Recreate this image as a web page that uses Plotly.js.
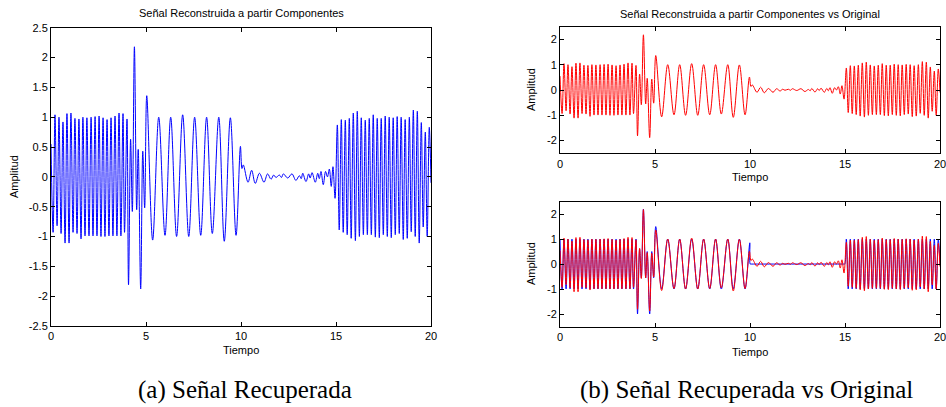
<!DOCTYPE html>
<html><head><meta charset="utf-8">
<script src="https://cdn.plot.ly/plotly-3.0.1.min.js"></script>
<style>html,body{margin:0;padding:0;background:#fff;}#chart{width:946px;height:407px;}</style>
</head><body><div id="chart"></div>
<script>
// Reconstructed signal: times and values of its turning points
var recT = [0.00,0.11,0.21,0.32,0.42,0.53,0.63,0.74,0.84,0.95,1.05,1.16,1.26,1.37,1.47,1.58,1.68,1.79,1.89,2.00,
  2.11,2.21,2.32,2.42,2.53,2.63,2.74,2.84,2.95,3.05,3.16,3.26,3.37,3.47,3.58,3.68,3.79,3.87,4.00,4.08,
  4.19,4.28,4.39,4.51,4.59,4.72,4.83,4.93,5.04,5.35,5.67,6.00,6.30,6.61,6.93,7.25,7.56,7.88,8.19,8.49,
  8.83,9.12,9.44,9.74,9.97,10.05,10.12,10.37,10.56,10.75,10.97,11.21,11.40,11.58,11.72,11.84,12.02,12.13,12.23,12.46,
  12.68,12.89,13.07,13.17,13.25,13.42,13.56,13.64,13.74,13.91,14.04,14.12,14.21,14.33,14.45,14.55,14.65,14.75,14.84,14.95,
  15.07,15.17,15.28,15.38,15.49,15.59,15.70,15.80,15.91,16.02,16.12,16.23,16.33,16.44,16.54,16.65,16.75,16.86,16.96,17.07,
  17.17,17.28,17.38,17.49,17.59,17.70,17.80,17.91,18.01,18.12,18.22,18.33,18.43,18.54,18.64,18.75,18.86,18.96,19.07,19.17,
  19.28,19.38,19.49,19.59,19.70,19.80,19.91,20.00];
var recV = [0.55,-0.93,1.04,-0.82,1.00,-0.95,0.92,-1.11,1.06,-1.11,1.07,-0.93,0.98,-0.95,0.97,-1.04,1.00,-0.99,0.99,-0.99,
  1.00,-0.99,1.01,-0.99,1.02,-1.00,0.99,-1.00,0.96,-0.99,0.99,-0.99,1.02,-0.99,1.07,-0.99,1.06,-0.93,0.97,-1.81,
  0.63,-0.58,2.18,-0.55,0.46,-1.88,0.43,-0.52,1.36,-1.06,1.00,-0.98,1.00,-1.00,1.04,-1.00,1.00,-0.98,1.00,-0.95,
  1.00,-1.08,0.99,-0.98,0.51,0.14,0.20,-0.09,0.11,-0.11,0.06,-0.09,0.05,-0.04,0.03,-0.01,0.03,-0.01,0.05,-0.02,
  0.05,-0.06,0.02,-0.03,0.06,-0.08,0.05,-0.02,0.07,-0.09,0.06,-0.03,0.09,-0.13,0.09,0.00,0.13,-0.16,0.17,-0.36,
  0.87,-0.89,0.96,-0.93,0.95,-0.97,0.98,-1.03,1.07,-1.07,1.10,-1.00,0.99,-0.97,0.95,-0.97,0.98,-0.97,1.04,-1.01,
  0.98,-1.02,0.98,-0.97,1.02,-1.00,1.00,-1.02,0.99,-0.97,1.01,-0.95,1.00,-1.05,0.96,-1.03,1.00,-0.92,1.12,-1.00,
  1.10,-1.11,0.91,-0.84,0.75,-1.00,0.83,-0.10];

// Original signal: turning points and flat stretch
var origT = [0.00,0.11,0.21,0.32,0.42,0.53,0.63,0.74,0.84,0.95,1.05,1.16,1.26,1.37,1.47,1.58,1.68,1.79,1.89,2.00,
  2.11,2.21,2.32,2.42,2.53,2.63,2.74,2.84,2.95,3.05,3.16,3.26,3.37,3.47,3.58,3.68,3.79,3.87,4.00,4.08,
  4.19,4.28,4.39,4.51,4.59,4.72,4.83,4.93,5.04,5.35,5.67,6.00,6.30,6.61,6.93,7.25,7.56,7.88,8.19,8.49,
  8.83,9.12,9.44,9.74,9.99,10.01,10.05,12.50,14.95,14.99,
  15.07,15.17,15.28,15.38,15.49,15.59,15.70,15.80,15.91,16.02,16.12,16.23,16.33,16.44,16.54,16.65,16.75,16.86,16.96,17.07,
  17.17,17.28,17.38,17.49,17.59,17.70,17.80,17.91,18.01,18.12,18.22,18.33,18.43,18.54,18.64,18.75,18.86,18.96,19.07,19.17,
  19.28,19.38,19.49,19.59,19.70,19.80,19.91,20.00];
var origV = [1.00,-1.00,1.00,-1.00,1.00,-1.00,1.00,-1.00,1.00,-1.00,1.00,-1.00,1.00,-1.00,1.00,-1.00,1.00,-1.00,1.00,-1.00,
  1.00,-1.00,1.00,-1.00,1.00,-1.00,1.00,-1.00,1.00,-1.00,1.00,-1.00,1.00,-1.00,1.00,-1.00,1.00,-1.00,1.00,-2.00,
  0.60,-0.55,2.20,-0.55,0.50,-2.00,0.50,-0.55,1.50,-1.00,1.00,-1.00,1.00,-1.00,1.00,-1.00,1.00,-1.00,1.00,-1.00,
  1.00,-1.00,1.00,-1.00,0.85,0.00,0.00,0.00,0.00,0.00,
  1.00,-1.00,1.00,-1.00,1.00,-1.00,1.00,-1.00,1.00,-1.00,1.00,-1.00,1.00,-1.00,1.00,-1.00,1.00,-1.00,1.00,-1.00,
  1.00,-1.00,1.00,-1.00,1.00,-1.00,1.00,-1.00,1.00,-1.00,1.00,-1.00,1.00,-1.00,1.00,-1.00,1.00,-1.00,1.00,-1.00,
  1.00,-1.00,1.00,-1.00,1.00,-1.00,1.00,0.00];

// Tick labels
var xTickVals = [0,5,10,15,20];
var xTickText = ["0","5","10","15","20"];
var yTickValsA = [-2.5,-2,-1.5,-1,-0.5,0,0.5,1,1.5,2,2.5];
var yTickTextA = ["-2.5","-2","-1.5","-1","-0.5","0","0.5","1","1.5","2","2.5"];
var yTickValsB = [-2,-1,0,1,2];
var yTickTextB = ["-2","-1","0","1","2"];

var titleA = "Señal Reconstruida a partir Componentes";
var titleB = "Señal Reconstruida a partir Componentes vs Original";
var xLabel = "Tiempo";
var yLabel = "Amplitud";
var captionA = "(a) Señal Recuperada";
var captionB = "(b) Señal Recuperada vs Original";

var W = 946, H = 407;
function px(x){return x/W;}
function py(y){return 1 - y/H;}

var sans = "Liberation Sans, Arial, Helvetica, sans-serif";
var serif = "Liberation Serif, Times New Roman, serif";

var lineSpline = function(c){return {color:c, width:1, shape:'spline', smoothing:1};};

var traces = [
  {x:recT, y:recV, type:'scatter', mode:'lines', line:lineSpline('#0000ff'), xaxis:'x', yaxis:'y', hoverinfo:'skip'},
  {x:recT, y:recV, type:'scatter', mode:'lines', line:lineSpline('#ff0000'), xaxis:'x2', yaxis:'y2', hoverinfo:'skip'},
  {x:origT, y:origV, type:'scatter', mode:'lines', line:lineSpline('#0000ff'), xaxis:'x3', yaxis:'y3', hoverinfo:'skip'},
  {x:recT, y:recV, type:'scatter', mode:'lines', line:lineSpline('#ff0000'), xaxis:'x3', yaxis:'y3', hoverinfo:'skip'}
];

function xa(dom, anchor){
  return {domain:dom, anchor:anchor, range:[0,20], tickmode:'array', tickvals:xTickVals, ticktext:xTickText,
    ticks:'inside', ticklen:4, tickcolor:'#000', showline:true, linecolor:'#000', linewidth:1, mirror:'ticks',
    showgrid:false, zeroline:false, ticklabeloverflow:'allow', tickfont:{family:sans, size:11, color:'#000'}};
}
function ya(dom, anchor, vals, txt){
  return {domain:dom, anchor:anchor, range:[-2.5,2.5], tickmode:'array', tickvals:vals, ticktext:txt,
    ticks:'inside', ticklen:4, tickcolor:'#000', showline:true, linecolor:'#000', linewidth:1, mirror:'ticks',
    showgrid:false, zeroline:false, ticklabeloverflow:'allow', tickfont:{family:sans, size:11, color:'#000'}};
}

function ann(text, x, y, font, angle){
  return {text:text, x:px(x), y:py(y), xref:'paper', yref:'paper', xanchor:'center', yanchor:'middle',
    showarrow:false, textangle:angle||0, font:font};
}
var fSmall = {family:sans, size:11, color:'#000'};
var fCap = {family:serif, size:25, color:'#000'};

var layout = {
  width:W, height:H, margin:{l:0,r:0,t:0,b:0}, showlegend:false,
  paper_bgcolor:'#fff', plot_bgcolor:'#fff',
  xaxis: xa([px(51),px(431)], 'y'),
  yaxis: ya([py(326),py(27.7)], 'x', yTickValsA, yTickTextA),
  xaxis2: xa([px(560),px(940)], 'y2'),
  yaxis2: ya([py(153.3),py(26.7)], 'x2', yTickValsB, yTickTextB),
  xaxis3: xa([px(560),px(940)], 'y3'),
  yaxis3: ya([py(326.5),py(201.6)], 'x3', yTickValsB, yTickTextB),
  annotations: [
    ann(titleA, 241, 13, fSmall),
    ann(titleB, 750, 14, fSmall),
    ann(xLabel, 241, 350, fSmall),
    ann(xLabel, 750, 177, fSmall),
    ann(xLabel, 750, 352, fSmall),
    ann(yLabel, 14, 177, fSmall, -90),
    ann(yLabel, 531, 90, fSmall, -90),
    ann(yLabel, 531, 264, fSmall, -90),
    ann(captionA, 245, 390, fCap),
    ann(captionB, 746, 390, fCap)
  ]
};

Plotly.newPlot('chart', traces, layout, {staticPlot:true, displayModeBar:false});
</script>
</body></html>
